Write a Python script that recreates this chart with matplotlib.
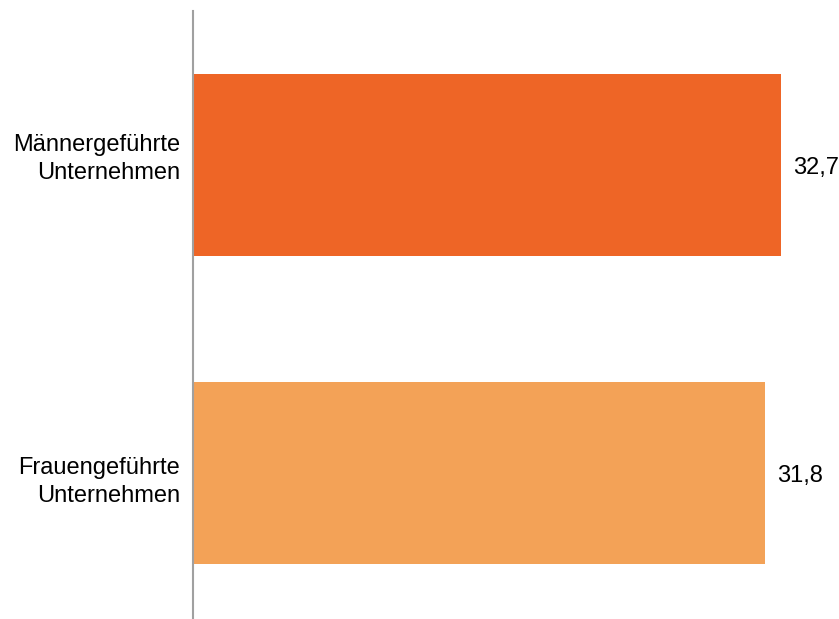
import matplotlib
matplotlib.use('Agg')
import matplotlib.pyplot as plt
from matplotlib.transforms import offset_copy

categories = ['Männergeführte\nUnternehmen', 'Frauengeführte\nUnternehmen']
values = [32.7, 31.8]
value_labels = ['32,7', '31,8']
bar_colors = ['#EE6526', '#F3A257']

plt.rcParams['font.family'] = ['Liberation Sans', 'DejaVu Sans']

fig = plt.figure(figsize=(8.39, 6.19), dpi=100)
ax = fig.add_axes([193 / 839, 0.0, (839 - 193) / 839, 608 / 619])

y = range(len(categories))
ax.barh(y, values, height=0.59, color=bar_colors)
ax.set_xlim(0, 35.9)
ax.set_ylim(1.474, -0.5)

# Wertebeschriftungen rechts neben den Balken
val_trans = offset_copy(ax.transData, fig=fig, x=0, y=-2.2, units='points')
for i, (v, lab) in enumerate(zip(values, value_labels)):
    ax.text(v + 0.65, i, lab, va='center', ha='left', fontsize=17,
            color='black', transform=val_trans)

# Kategorienamen links von der Achse (leicht versetzt wie im Original)
label_shift = [4.2, -6.2]
for i, (cat, dy) in enumerate(zip(categories, label_shift)):
    tr = offset_copy(ax.get_yaxis_transform(), fig=fig, x=0, y=dy, units='points')
    ax.text(-0.0201, i, cat, va='center', ha='right', multialignment='right',
            fontsize=17, linespacing=1.35, transform=tr)

ax.set_yticks([])
ax.set_xticks([])
for s in ['top', 'right', 'bottom']:
    ax.spines[s].set_visible(False)
ax.spines['left'].set_color('#A0A0A0')
ax.spines['left'].set_linewidth(1.5)

fig.savefig('out.png', dpi=100)
